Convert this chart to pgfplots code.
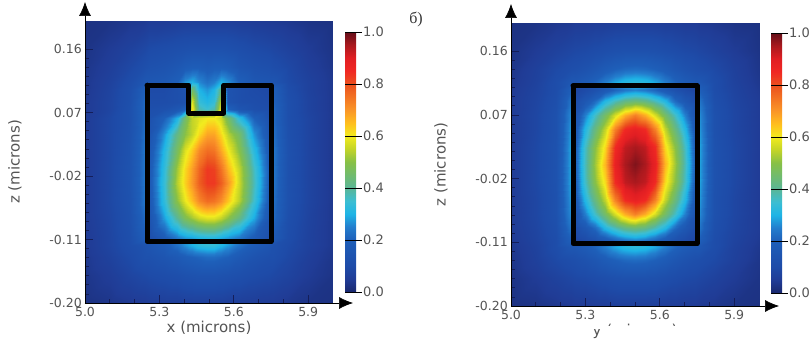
\documentclass[border=0pt]{standalone}
\usepackage{fontspec}
\setmainfont{DejaVu Sans}
\newfontfamily\serifcyr{Liberation Serif}
\usepackage{pgfplots}
\usepackage{pgfplotstable}
\pgfplotsset{compat=1.18}
\usetikzlibrary{arrows.meta}
\definecolor{lab}{gray}{0.33}
\definecolor{navy}{RGB}{20,30,90}
\pgfplotsset{
 fieldmap/.style={
  colormap={field}{rgb255(0)=(25,40,110) rgb255(5)=(32,60,150) rgb255(10)=(30,75,168) rgb255(20)=(30,95,185) rgb255(25)=(35,125,205) rgb255(30)=(30,180,230) rgb255(35)=(60,190,210) rgb255(40)=(90,182,150) rgb255(50)=(135,192,70) rgb255(55)=(195,212,40) rgb255(60)=(242,235,30) rgb255(65)=(255,190,30) rgb255(70)=(250,150,40) rgb255(80)=(235,80,30) rgb255(85)=(240,40,35) rgb255(90)=(225,30,35) rgb255(95)=(170,25,30) rgb255(100)=(100,15,25)},
  point meta min=0, point meta max=1,
  scale only axis, width=248pt,
  xmin=5, xmax=6, ymin=-0.2, ymax=0.2,
  axis lines=left, axis on top,
  x axis line style={black,line width=.6pt,-{Latex[length=14pt,width=12pt]},shorten >=-20pt},
  y axis line style={black,line width=.6pt,-{Latex[length=14pt,width=12pt]},shorten >=-19pt},
  xtick={5,5.3,5.6,5.9}, xticklabels={5.0,5.3,5.6,5.9},
  ytick={-0.2,-0.11,-0.02,0.07,0.16}, yticklabels={-0.20,-0.11,-0.02,0.07,0.16},
  minor x tick num=2, minor y tick num=6,
  tick align=inside, major tick length=8pt, minor tick length=4pt,
  tick style={navy,line width=.8pt},
  ticklabel style={font=\fontsize{12.5}{13}\selectfont,text=lab},
  xticklabel style={inner sep=1pt,yshift=-3pt},
  yticklabel style={inner sep=1pt,xshift=-2pt},
  label style={font=\fontsize{15}{15}\selectfont,text=lab},
  xlabel style={at={(axis description cs:0.5,0)},anchor=center,yshift=-25pt},
  ylabel style={at={(axis description cs:0,0.5)},anchor=center,yshift=70pt},
  ylabel={z (microns)},
  colorbar,
 },
 cb/.style={
  colorbar style={
   axis lines=box, axis line style={draw=none}, axis on top,
   scale only axis, width=11pt, height=260pt,
   at={(1.0484,#1)}, anchor=south west,
   xtick=\empty, ytick={0,0.2,0.4,0.6,0.8,1}, yticklabels={0.0,0.2,0.4,0.6,0.8,1.0},
   yticklabel pos=right, minor y tick num=0,
   major tick length=0pt,
   yticklabel style={font=\fontsize{13}{13}\selectfont,text=lab,inner sep=1pt,xshift=6pt},
   ylabel={},xlabel={},
  }
 }
}
\begin{document}
\begin{tikzpicture}[x=1pt,y=1pt]
\path[use as bounding box] (0,0) rectangle (811,339);
\begin{axis}[fieldmap,cb=0.039,height=282pt,at={(85pt,36pt)},anchor=south west,xlabel={x (microns)}]
\addplot[surf,shader=interp,mesh/cols=21,mesh/rows=19,point meta=\thisrow{v}] table[row sep=\\,x=x,y=y]{
x y v\\
5.0 .2 .025\\5.1 .2 .03\\5.18 .2 .04\\5.24 .2 .045\\5.26 .2 .05\\5.32 .2 .05\\5.37 .2 .055\\5.405 .2 .06\\5.43 .2 .06\\5.46 .2 .06\\5.49 .2 .06\\5.52 .2 .06\\5.55 .2 .06\\5.575 .2 .06\\5.62 .2 .055\\5.68 .2 .05\\5.74 .2 .045\\5.76 .2 .045\\5.82 .2 .04\\5.9 .2 .03\\6.0 .2 .025\\
5.0 .16 .03\\5.1 .16 .05\\5.18 .16 .07\\5.24 .16 .09\\5.26 .16 .1\\5.32 .16 .11\\5.37 .16 .12\\5.405 .16 .125\\5.43 .16 .13\\5.46 .16 .13\\5.49 .16 .13\\5.52 .16 .13\\5.55 .16 .13\\5.575 .16 .125\\5.62 .16 .115\\5.68 .16 .1\\5.74 .16 .09\\5.76 .16 .085\\5.82 .16 .07\\5.9 .16 .05\\6.0 .16 .03\\
5.0 .135 .035\\5.1 .135 .06\\5.18 .135 .09\\5.24 .135 .12\\5.26 .135 .13\\5.32 .135 .14\\5.37 .135 .16\\5.405 .135 .18\\5.43 .135 .19\\5.46 .135 .19\\5.49 .135 .18\\5.52 .135 .19\\5.55 .135 .19\\5.575 .135 .18\\5.62 .135 .15\\5.68 .135 .13\\5.74 .135 .12\\5.76 .135 .11\\5.82 .135 .09\\5.9 .135 .06\\6.0 .135 .035\\
5.0 .114 .04\\5.1 .114 .07\\5.18 .114 .11\\5.24 .114 .16\\5.26 .114 .16\\5.32 .114 .17\\5.37 .114 .2\\5.405 .114 .27\\5.43 .114 .3\\5.46 .114 .26\\5.49 .114 .23\\5.52 .114 .25\\5.55 .114 .3\\5.575 .114 .27\\5.62 .114 .2\\5.68 .114 .16\\5.74 .114 .15\\5.76 .114 .15\\5.82 .114 .1\\5.9 .114 .07\\6.0 .114 .04\\
5.0 .104 .04\\5.1 .104 .075\\5.18 .104 .12\\5.24 .104 .2\\5.26 .104 .1\\5.32 .104 .1\\5.37 .104 .12\\5.405 .104 .14\\5.43 .104 .45\\5.46 .104 .3\\5.49 .104 .27\\5.52 .104 .3\\5.55 .104 .42\\5.575 .104 .14\\5.62 .104 .12\\5.68 .104 .1\\5.74 .104 .09\\5.76 .104 .2\\5.82 .104 .11\\5.9 .104 .07\\6.0 .104 .04\\
5.0 .085 .045\\5.1 .085 .08\\5.18 .085 .125\\5.24 .085 .22\\5.26 .085 .11\\5.32 .085 .11\\5.37 .085 .12\\5.405 .085 .13\\5.43 .085 .58\\5.46 .085 .34\\5.49 .085 .31\\5.52 .085 .34\\5.55 .085 .56\\5.575 .085 .14\\5.62 .085 .12\\5.68 .085 .11\\5.74 .085 .1\\5.76 .085 .21\\5.82 .085 .12\\5.9 .085 .075\\6.0 .085 .04\\
5.0 .075 .045\\5.1 .075 .08\\5.18 .075 .13\\5.24 .075 .22\\5.26 .075 .12\\5.32 .075 .13\\5.37 .075 .16\\5.405 .075 .2\\5.43 .075 .62\\5.46 .075 .38\\5.49 .075 .35\\5.52 .075 .38\\5.55 .075 .6\\5.575 .075 .2\\5.62 .075 .15\\5.68 .075 .12\\5.74 .075 .11\\5.76 .075 .22\\5.82 .075 .12\\5.9 .075 .075\\6.0 .075 .04\\
5.0 .062 .05\\5.1 .062 .09\\5.18 .062 .13\\5.24 .062 .22\\5.26 .062 .13\\5.32 .062 .2\\5.37 .062 .3\\5.405 .062 .46\\5.43 .062 .55\\5.46 .062 .58\\5.49 .062 .6\\5.52 .062 .6\\5.55 .062 .56\\5.575 .062 .46\\5.62 .062 .33\\5.68 .062 .2\\5.74 .062 .13\\5.76 .062 .22\\5.82 .062 .12\\5.9 .062 .08\\6.0 .062 .04\\
5.0 .04 .05\\5.1 .04 .09\\5.18 .04 .135\\5.24 .04 .23\\5.26 .04 .14\\5.32 .04 .27\\5.37 .04 .42\\5.405 .04 .5\\5.43 .04 .55\\5.46 .04 .62\\5.49 .04 .68\\5.52 .04 .68\\5.55 .04 .62\\5.575 .04 .54\\5.62 .04 .46\\5.68 .04 .27\\5.74 .04 .15\\5.76 .04 .23\\5.82 .04 .125\\5.9 .04 .08\\6.0 .04 .04\\
5.0 .015 .05\\5.1 .015 .09\\5.18 .015 .14\\5.24 .015 .24\\5.26 .015 .16\\5.32 .015 .31\\5.37 .015 .47\\5.405 .015 .58\\5.43 .015 .64\\5.46 .015 .72\\5.49 .015 .76\\5.52 .015 .75\\5.55 .015 .68\\5.575 .015 .6\\5.62 .015 .5\\5.68 .015 .32\\5.74 .015 .17\\5.76 .015 .24\\5.82 .015 .13\\5.9 .015 .08\\6.0 .015 .04\\
5.0 -.01 .05\\5.1 -.01 .09\\5.18 -.01 .14\\5.24 -.01 .24\\5.26 -.01 .17\\5.32 -.01 .33\\5.37 -.01 .52\\5.405 -.01 .62\\5.43 -.01 .69\\5.46 -.01 .77\\5.49 -.01 .83\\5.52 -.01 .82\\5.55 -.01 .75\\5.575 -.01 .66\\5.62 -.01 .55\\5.68 -.01 .36\\5.74 -.01 .19\\5.76 -.01 .24\\5.82 -.01 .13\\5.9 -.01 .08\\6.0 -.01 .04\\
5.0 -.03 .05\\5.1 -.03 .09\\5.18 -.03 .14\\5.24 -.03 .24\\5.26 -.03 .17\\5.32 -.03 .34\\5.37 -.03 .54\\5.405 -.03 .63\\5.43 -.03 .7\\5.46 -.03 .78\\5.49 -.03 .83\\5.52 -.03 .83\\5.55 -.03 .78\\5.575 -.03 .7\\5.62 -.03 .56\\5.68 -.03 .37\\5.74 -.03 .19\\5.76 -.03 .24\\5.82 -.03 .13\\5.9 -.03 .08\\6.0 -.03 .04\\
5.0 -.055 .05\\5.1 -.055 .09\\5.18 -.055 .135\\5.24 -.055 .24\\5.26 -.055 .16\\5.32 -.055 .33\\5.37 -.055 .5\\5.405 -.055 .59\\5.43 -.055 .65\\5.46 -.055 .72\\5.49 -.055 .76\\5.52 -.055 .75\\5.55 -.055 .71\\5.575 -.055 .64\\5.62 -.055 .54\\5.68 -.055 .35\\5.74 -.055 .18\\5.76 -.055 .23\\5.82 -.055 .13\\5.9 -.055 .08\\6.0 -.055 .04\\
5.0 -.08 .05\\5.1 -.08 .085\\5.18 -.08 .13\\5.24 -.08 .22\\5.26 -.08 .14\\5.32 -.08 .28\\5.37 -.08 .4\\5.405 -.08 .48\\5.43 -.08 .52\\5.46 -.08 .56\\5.49 -.08 .58\\5.52 -.08 .58\\5.55 -.08 .55\\5.575 -.08 .5\\5.62 -.08 .42\\5.68 -.08 .29\\5.74 -.08 .15\\5.76 -.08 .22\\5.82 -.08 .12\\5.9 -.08 .075\\6.0 -.08 .04\\
5.0 -.108 .045\\5.1 -.108 .08\\5.18 -.108 .12\\5.24 -.108 .19\\5.26 -.108 .11\\5.32 -.108 .18\\5.37 -.108 .24\\5.405 -.108 .27\\5.43 -.108 .28\\5.46 -.108 .3\\5.49 -.108 .31\\5.52 -.108 .31\\5.55 -.108 .29\\5.575 -.108 .27\\5.62 -.108 .24\\5.68 -.108 .18\\5.74 -.108 .12\\5.76 -.108 .18\\5.82 -.108 .11\\5.9 -.108 .07\\6.0 -.108 .04\\
5.0 -.118 .045\\5.1 -.118 .08\\5.18 -.118 .115\\5.24 -.118 .14\\5.26 -.118 .15\\5.32 -.118 .18\\5.37 -.118 .23\\5.405 -.118 .27\\5.43 -.118 .3\\5.46 -.118 .33\\5.49 -.118 .34\\5.52 -.118 .34\\5.55 -.118 .31\\5.575 -.118 .28\\5.62 -.118 .23\\5.68 -.118 .18\\5.74 -.118 .15\\5.76 -.118 .13\\5.82 -.118 .1\\5.9 -.118 .07\\6.0 -.118 .04\\
5.0 -.135 .04\\5.1 -.135 .07\\5.18 -.135 .1\\5.24 -.135 .13\\5.26 -.135 .13\\5.32 -.135 .15\\5.37 -.135 .17\\5.405 -.135 .19\\5.43 -.135 .2\\5.46 -.135 .21\\5.49 -.135 .22\\5.52 -.135 .22\\5.55 -.135 .21\\5.575 -.135 .2\\5.62 -.135 .17\\5.68 -.135 .14\\5.74 -.135 .12\\5.76 -.135 .12\\5.82 -.135 .09\\5.9 -.135 .06\\6.0 -.135 .035\\
5.0 -.16 .035\\5.1 -.16 .055\\5.18 -.16 .08\\5.24 -.16 .095\\5.26 -.16 .1\\5.32 -.16 .11\\5.37 -.16 .12\\5.405 -.16 .13\\5.43 -.16 .135\\5.46 -.16 .14\\5.49 -.16 .14\\5.52 -.16 .14\\5.55 -.16 .135\\5.575 -.16 .13\\5.62 -.16 .12\\5.68 -.16 .105\\5.74 -.16 .095\\5.76 -.16 .09\\5.82 -.16 .075\\5.9 -.16 .05\\6.0 -.16 .03\\
5.0 -.2 .025\\5.1 -.2 .035\\5.18 -.2 .045\\5.24 -.2 .05\\5.26 -.2 .055\\5.32 -.2 .06\\5.37 -.2 .06\\5.405 -.2 .065\\5.43 -.2 .065\\5.46 -.2 .065\\5.49 -.2 .065\\5.52 -.2 .065\\5.55 -.2 .065\\5.575 -.2 .06\\5.62 -.2 .06\\5.68 -.2 .055\\5.74 -.2 .05\\5.76 -.2 .05\\5.82 -.2 .04\\5.9 -.2 .03\\6.0 -.2 .025\\
};
\addplot[black,line width=5pt,line join=round,line cap=round] coordinates {(5.25,.109) (5.418,.109) (5.418,.0695) (5.56,.0695) (5.56,.109) (5.75,.109) (5.75,-.113) (5.25,-.113) (5.25,.109)};
\end{axis}
\begin{axis}[fieldmap,cb=0.046,height=283pt,at={(511pt,33pt)},anchor=south west,xlabel={y (microns)}]
\addplot[surf,shader=interp,mesh/cols=21,mesh/rows=19,point meta=\thisrow{v}] table[row sep=\\,x=x,y=y]{
x y v\\
5.0 .2 .025\\5.1 .2 .03\\5.18 .2 .04\\5.24 .2 .045\\5.26 .2 .05\\5.3 .2 .05\\5.34 .2 .055\\5.38 .2 .055\\5.42 .2 .06\\5.46 .2 .06\\5.5 .2 .06\\5.54 .2 .06\\5.58 .2 .06\\5.62 .2 .055\\5.66 .2 .055\\5.7 .2 .05\\5.74 .2 .05\\5.76 .2 .045\\5.82 .2 .04\\5.9 .2 .03\\6.0 .2 .025\\
5.0 .16 .03\\5.1 .16 .05\\5.18 .16 .07\\5.24 .16 .085\\5.26 .16 .09\\5.3 .16 .095\\5.34 .16 .105\\5.38 .16 .115\\5.42 .16 .125\\5.46 .16 .13\\5.5 .16 .13\\5.54 .16 .13\\5.58 .16 .125\\5.62 .16 .115\\5.66 .16 .105\\5.7 .16 .095\\5.74 .16 .09\\5.76 .16 .085\\5.82 .16 .07\\5.9 .16 .05\\6.0 .16 .03\\
5.0 .135 .035\\5.1 .135 .065\\5.18 .135 .095\\5.24 .135 .115\\5.26 .135 .12\\5.3 .135 .135\\5.34 .135 .155\\5.38 .135 .18\\5.42 .135 .2\\5.46 .135 .215\\5.5 .135 .22\\5.54 .135 .215\\5.58 .135 .2\\5.62 .135 .18\\5.66 .135 .155\\5.7 .135 .135\\5.74 .135 .12\\5.76 .135 .115\\5.82 .135 .095\\5.9 .135 .065\\6.0 .135 .035\\
5.0 .116 .04\\5.1 .116 .07\\5.18 .116 .11\\5.24 .116 .16\\5.26 .116 .16\\5.3 .116 .18\\5.34 .116 .21\\5.38 .116 .25\\5.42 .116 .29\\5.46 .116 .32\\5.5 .116 .33\\5.54 .116 .32\\5.58 .116 .29\\5.62 .116 .25\\5.66 .116 .21\\5.7 .116 .18\\5.74 .116 .16\\5.76 .116 .16\\5.82 .116 .11\\5.9 .116 .07\\6.0 .116 .04\\
5.0 .106 .045\\5.1 .106 .075\\5.18 .106 .11\\5.24 .106 .2\\5.26 .106 .08\\5.3 .106 .1\\5.34 .106 .13\\5.38 .106 .17\\5.42 .106 .21\\5.46 .106 .24\\5.5 .106 .255\\5.54 .106 .24\\5.58 .106 .21\\5.62 .106 .17\\5.66 .106 .13\\5.7 .106 .1\\5.74 .106 .08\\5.76 .106 .2\\5.82 .106 .11\\5.9 .106 .075\\6.0 .106 .045\\
5.0 .09 .05\\5.1 .09 .08\\5.18 .09 .12\\5.24 .09 .24\\5.26 .09 .11\\5.3 .09 .16\\5.34 .09 .22\\5.38 .09 .31\\5.42 .09 .37\\5.46 .09 .42\\5.5 .09 .44\\5.54 .09 .42\\5.58 .09 .37\\5.62 .09 .31\\5.66 .09 .22\\5.7 .09 .16\\5.74 .09 .11\\5.76 .09 .24\\5.82 .09 .12\\5.9 .09 .08\\6.0 .09 .05\\
5.0 .07 .05\\5.1 .07 .085\\5.18 .07 .13\\5.24 .07 .27\\5.26 .07 .14\\5.3 .07 .25\\5.34 .07 .36\\5.38 .07 .46\\5.42 .07 .57\\5.46 .07 .67\\5.5 .07 .73\\5.54 .07 .67\\5.58 .07 .57\\5.62 .07 .46\\5.66 .07 .36\\5.7 .07 .25\\5.74 .07 .14\\5.76 .07 .27\\5.82 .07 .13\\5.9 .07 .085\\6.0 .07 .05\\
5.0 .05 .05\\5.1 .05 .085\\5.18 .05 .13\\5.24 .05 .28\\5.26 .05 .17\\5.3 .05 .31\\5.34 .05 .43\\5.38 .05 .55\\5.42 .05 .73\\5.46 .05 .85\\5.5 .05 .88\\5.54 .05 .85\\5.58 .05 .73\\5.62 .05 .55\\5.66 .05 .43\\5.7 .05 .31\\5.74 .05 .17\\5.76 .05 .28\\5.82 .05 .13\\5.9 .05 .085\\6.0 .05 .05\\
5.0 .025 .05\\5.1 .025 .09\\5.18 .025 .135\\5.24 .025 .29\\5.26 .025 .19\\5.3 .025 .36\\5.34 .025 .5\\5.38 .025 .62\\5.42 .025 .85\\5.46 .025 .93\\5.5 .025 .95\\5.54 .025 .93\\5.58 .025 .85\\5.62 .025 .62\\5.66 .025 .5\\5.7 .025 .36\\5.74 .025 .19\\5.76 .025 .29\\5.82 .025 .135\\5.9 .025 .09\\6.0 .025 .05\\
5.0 0 .05\\5.1 0 .09\\5.18 0 .135\\5.24 0 .29\\5.26 0 .2\\5.3 0 .37\\5.34 0 .52\\5.38 0 .66\\5.42 0 .88\\5.46 0 .95\\5.5 0 .98\\5.54 0 .95\\5.58 0 .88\\5.62 0 .66\\5.66 0 .52\\5.7 0 .37\\5.74 0 .2\\5.76 0 .29\\5.82 0 .135\\5.9 0 .09\\6.0 0 .05\\
5.0 -.025 .05\\5.1 -.025 .09\\5.18 -.025 .135\\5.24 -.025 .29\\5.26 -.025 .19\\5.3 -.025 .36\\5.34 -.025 .5\\5.38 -.025 .62\\5.42 -.025 .85\\5.46 -.025 .93\\5.5 -.025 .95\\5.54 -.025 .93\\5.58 -.025 .85\\5.62 -.025 .62\\5.66 -.025 .5\\5.7 -.025 .36\\5.74 -.025 .19\\5.76 -.025 .29\\5.82 -.025 .135\\5.9 -.025 .09\\6.0 -.025 .05\\
5.0 -.05 .05\\5.1 -.05 .085\\5.18 -.05 .13\\5.24 -.05 .28\\5.26 -.05 .17\\5.3 -.05 .31\\5.34 -.05 .43\\5.38 -.05 .55\\5.42 -.05 .73\\5.46 -.05 .85\\5.5 -.05 .88\\5.54 -.05 .85\\5.58 -.05 .73\\5.62 -.05 .55\\5.66 -.05 .43\\5.7 -.05 .31\\5.74 -.05 .17\\5.76 -.05 .28\\5.82 -.05 .13\\5.9 -.05 .085\\6.0 -.05 .05\\
5.0 -.07 .05\\5.1 -.07 .085\\5.18 -.07 .13\\5.24 -.07 .27\\5.26 -.07 .14\\5.3 -.07 .25\\5.34 -.07 .36\\5.38 -.07 .46\\5.42 -.07 .57\\5.46 -.07 .67\\5.5 -.07 .73\\5.54 -.07 .67\\5.58 -.07 .57\\5.62 -.07 .46\\5.66 -.07 .36\\5.7 -.07 .25\\5.74 -.07 .14\\5.76 -.07 .27\\5.82 -.07 .13\\5.9 -.07 .085\\6.0 -.07 .05\\
5.0 -.09 .05\\5.1 -.09 .08\\5.18 -.09 .12\\5.24 -.09 .24\\5.26 -.09 .11\\5.3 -.09 .16\\5.34 -.09 .22\\5.38 -.09 .31\\5.42 -.09 .37\\5.46 -.09 .42\\5.5 -.09 .44\\5.54 -.09 .42\\5.58 -.09 .37\\5.62 -.09 .31\\5.66 -.09 .22\\5.7 -.09 .16\\5.74 -.09 .11\\5.76 -.09 .24\\5.82 -.09 .12\\5.9 -.09 .08\\6.0 -.09 .05\\
5.0 -.107 .045\\5.1 -.107 .075\\5.18 -.107 .11\\5.24 -.107 .2\\5.26 -.107 .08\\5.3 -.107 .1\\5.34 -.107 .13\\5.38 -.107 .17\\5.42 -.107 .21\\5.46 -.107 .24\\5.5 -.107 .255\\5.54 -.107 .24\\5.58 -.107 .21\\5.62 -.107 .17\\5.66 -.107 .13\\5.7 -.107 .1\\5.74 -.107 .08\\5.76 -.107 .2\\5.82 -.107 .11\\5.9 -.107 .075\\6.0 -.107 .045\\
5.0 -.117 .04\\5.1 -.117 .07\\5.18 -.117 .11\\5.24 -.117 .16\\5.26 -.117 .16\\5.3 -.117 .18\\5.34 -.117 .21\\5.38 -.117 .25\\5.42 -.117 .29\\5.46 -.117 .32\\5.5 -.117 .33\\5.54 -.117 .32\\5.58 -.117 .29\\5.62 -.117 .25\\5.66 -.117 .21\\5.7 -.117 .18\\5.74 -.117 .16\\5.76 -.117 .16\\5.82 -.117 .11\\5.9 -.117 .07\\6.0 -.117 .04\\
5.0 -.135 .035\\5.1 -.135 .065\\5.18 -.135 .095\\5.24 -.135 .115\\5.26 -.135 .12\\5.3 -.135 .135\\5.34 -.135 .155\\5.38 -.135 .18\\5.42 -.135 .2\\5.46 -.135 .215\\5.5 -.135 .22\\5.54 -.135 .215\\5.58 -.135 .2\\5.62 -.135 .18\\5.66 -.135 .155\\5.7 -.135 .135\\5.74 -.135 .12\\5.76 -.135 .115\\5.82 -.135 .095\\5.9 -.135 .065\\6.0 -.135 .035\\
5.0 -.16 .03\\5.1 -.16 .05\\5.18 -.16 .07\\5.24 -.16 .085\\5.26 -.16 .09\\5.3 -.16 .095\\5.34 -.16 .105\\5.38 -.16 .115\\5.42 -.16 .125\\5.46 -.16 .13\\5.5 -.16 .13\\5.54 -.16 .13\\5.58 -.16 .125\\5.62 -.16 .115\\5.66 -.16 .105\\5.7 -.16 .095\\5.74 -.16 .09\\5.76 -.16 .085\\5.82 -.16 .07\\5.9 -.16 .05\\6.0 -.16 .03\\
5.0 -.2 .025\\5.1 -.2 .03\\5.18 -.2 .04\\5.24 -.2 .045\\5.26 -.2 .05\\5.3 -.2 .05\\5.34 -.2 .055\\5.38 -.2 .055\\5.42 -.2 .06\\5.46 -.2 .06\\5.5 -.2 .06\\5.54 -.2 .06\\5.58 -.2 .06\\5.62 -.2 .055\\5.66 -.2 .055\\5.7 -.2 .05\\5.74 -.2 .05\\5.76 -.2 .045\\5.82 -.2 .04\\5.9 -.2 .03\\6.0 -.2 .025\\
};
\addplot[black,line width=5pt,line join=round,line cap=round] coordinates {(5.25,.111) (5.75,.111) (5.75,-.112) (5.25,-.112) (5.25,.111)};
\end{axis}
\foreach \k in {47,99,151,203,255,307}{\draw[black,line width=.8pt] (345,\k) -- (362,\k);}
\foreach \k in {46,98,150,202,254,306}{\draw[black,line width=.8pt] (771,\k) -- (788,\k);}
\fill[white] (606,0) rectangle (700,13);
\fill[white] (590,10) rectangle (606,19);
\node[font=\serifcyr\fontsize{16}{16}\selectfont,text=black!80] at (416,320) {б)};
\end{tikzpicture}
\end{document}
